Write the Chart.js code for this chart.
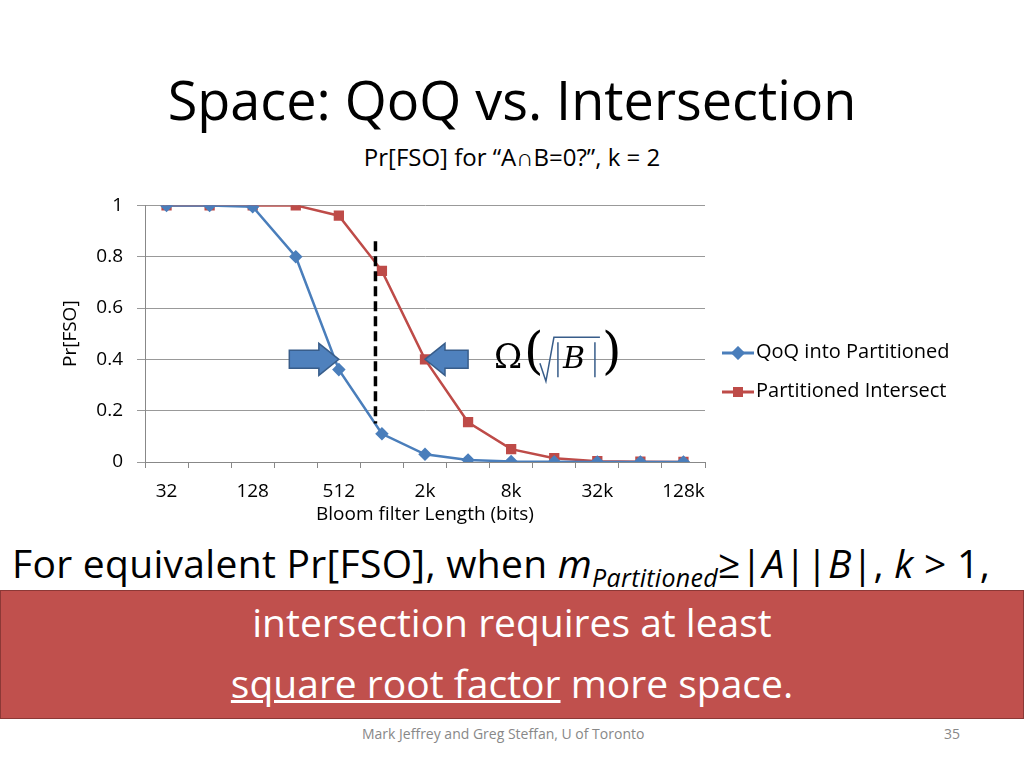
<!DOCTYPE html>
<html><head><meta charset="utf-8">
<script src="https://cdn.jsdelivr.net/npm/chart.js@4"></script>
<style>
body{margin:0;width:1024px;height:768px;background:#fff;font-family:"Open Sans",sans-serif;position:relative;overflow:hidden}
.a{position:absolute;white-space:nowrap}
</style></head><body>
<div class="a" style="left:0;width:1024px;top:62px;text-align:center;font-size:54px;color:#000">Space: QoQ vs. Intersection</div>
<div class="a" style="left:0;width:1024px;top:140px;text-align:center;font-size:24px;color:#000">Pr[FSO] for “A∩B=0?”, k = 2</div>
<div style="position:absolute;left:0;top:180px;width:1024px;height:350px"><canvas id="c"></canvas></div>
<div class="a" style="left:720px;top:331px;font-size:20px;color:#000;line-height:39px">
<div><svg width="36" height="14" style="vertical-align:middle"><line x1="2" y1="7" x2="34" y2="7" stroke="#4a7ebb" stroke-width="3"/><rect x="13" y="2" width="10" height="10" fill="#4a7ebb" transform="rotate(45 18 7)"/></svg>QoQ into Partitioned</div>
<div><svg width="36" height="14" style="vertical-align:middle"><line x1="2" y1="7" x2="34" y2="7" stroke="#be4b48" stroke-width="3"/><rect x="13" y="2" width="10" height="10" fill="#be4b48"/></svg>Partitioned Intersect</div>
</div>
<div class="a" style="left:12px;top:536px;font-size:39px;color:#000;letter-spacing:0.3px">For equivalent Pr[FSO], when <i>m</i><sub style="font-size:25px"><i>Partitioned</i></sub>≥|<i>A</i>||<i>B</i>|, <i>k</i> &gt; 1,</div>
<div style="position:absolute;left:0;top:590px;width:1022px;height:127px;background:#c0504d;border:1px solid #8c3836"></div>
<div class="a" style="left:0;width:1024px;top:595px;text-align:center;font-size:39px;color:#fff">intersection requires at least</div>
<div class="a" style="left:0;width:1024px;top:656px;text-align:center;font-size:39px;color:#fff"><u>square root factor</u> more space.</div>
<div class="a" style="left:362px;top:724px;font-size:14px;color:#888">Mark Jeffrey and Greg Steffan, U of Toronto</div>
<div class="a" style="left:944px;top:724px;font-size:14px;color:#888">35</div>
<script>
const categories=["32","64","128","256","512","1k","2k","4k","8k","16k","32k","64k","128k"];
const qoq=[1,1,0.995,0.8,0.36,0.11,0.03,0.008,0.002,0.0008,0.0002,0,0];
const inter=[1,1,1,1,0.96,0.745,0.4,0.155,0.05,0.015,0.003,0.001,0];
const yTicks=[0,0.2,0.4,0.6,0.8,1];
const deco={id:'deco',afterDatasetsDraw(ch){
 const c=ch.ctx,x=ch.scales.x,y=ch.scales.y;
 c.save();
 const xd=x.getPixelForValue(4.85);
 c.strokeStyle='#000';c.lineWidth=3.5;c.setLineDash([10,5]);
 c.beginPath();c.moveTo(xd,y.getPixelForValue(0.86));c.lineTo(xd,y.getPixelForValue(0.15));c.stroke();c.setLineDash([]);
 function arrow(x0,x1,yc){const d=Math.sign(x1-x0),hl=20;const xb=x1-d*hl;
  c.beginPath();c.moveTo(x0,yc-9);c.lineTo(xb,yc-9);c.lineTo(xb,yc-16);c.lineTo(x1,yc);c.lineTo(xb,yc+16);c.lineTo(xb,yc+9);c.lineTo(x0,yc+9);c.closePath();
  c.fillStyle='#4f81bd';c.fill();c.strokeStyle='#385d8a';c.lineWidth=1.5;c.stroke();}
 const ya=y.getPixelForValue(0.4);
 arrow(x.getPixelForValue(2.85),x.getPixelForValue(4.0),ya);
 arrow(x.getPixelForValue(7.0),x.getPixelForValue(6.0),ya);
 c.fillStyle='#000';c.font='34px "DejaVu Serif",serif';c.textBaseline='middle';
 const xo=x.getPixelForValue(7.6);
 c.fillText('Ω',xo,ya);
 c.font='300 50px "DejaVu Serif",serif';c.fillText('(',xo+30,ya-4);c.fillText(')',xo+108,ya-4);
 c.lineWidth=1.5;c.beginPath();c.moveTo(xo+46,ya+4);c.lineTo(xo+52,ya+22);c.lineTo(xo+60,ya-22);c.lineTo(xo+106,ya-22);c.stroke();
 c.beginPath();c.moveTo(xo+64,ya-17);c.lineTo(xo+64,ya+18);c.moveTo(xo+101,ya-17);c.lineTo(xo+101,ya+18);c.stroke();
 c.font='italic 30px "DejaVu Serif",serif';c.fillText('B',xo+69,ya+1);
 c.restore();}};
new Chart(document.getElementById('c'),{type:'line',
 data:{labels:categories,datasets:[
  {label:'QoQ into Partitioned',data:qoq,borderColor:'#4a7ebb',backgroundColor:'#4a7ebb',borderWidth:2.5,pointStyle:'rectRot',pointRadius:5,tension:0},
  {label:'Partitioned Intersect',data:inter,borderColor:'#be4b48',backgroundColor:'#be4b48',borderWidth:2.5,pointStyle:'rect',pointRadius:5.5,tension:0}]},
 options:{responsive:true,maintainAspectRatio:false,animation:false,
  layout:{padding:{top:15,right:319,left:55,bottom:0}},
  plugins:{legend:{display:false},tooltip:{enabled:false}},
  scales:{
   x:{offset:true,afterFit(s){s.height=68},grid:{offset:true,drawOnChartArea:false,tickLength:6,color:'#888'},border:{color:'#888'},
    ticks:{autoSkip:false,maxRotation:0,padding:12,color:'#000',font:{size:19,family:'"Open Sans"'},callback:(v,i)=>i%2===0?categories[i]:''},
    title:{display:true,text:'Bloom filter Length (bits)',color:'#000',font:{size:19,family:'"Open Sans"'},padding:{top:-12}}},
   y:{min:0,max:1,afterFit(s){s.width=90},afterBuildTicks(s){s.ticks=yTicks.map(v=>({value:v}))},
    grid:{color:'#999',tickLength:8},border:{color:'#888'},
    ticks:{padding:14,color:'#000',font:{size:19,family:'"Open Sans"'},callback:v=>String(Math.round(v*10)/10)},
    title:{display:true,text:'Pr[FSO]',color:'#000',font:{size:19,family:'"Open Sans"'},padding:{bottom:0}}}}},
 plugins:[deco]});
</script></body></html>
